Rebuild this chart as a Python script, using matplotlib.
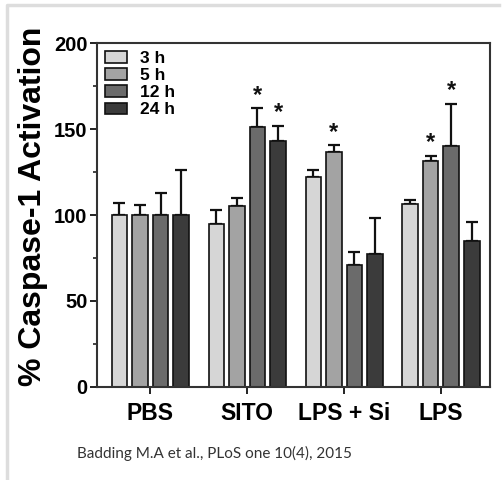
import numpy as np
import matplotlib
matplotlib.use("Agg")
import matplotlib.pyplot as plt
from matplotlib.lines import Line2D

# data
groups = ["PBS", "SITO", "LPS + Si", "LPS"]
times = ["3 h", "5 h", "12 h", "24 h"]
means = {
    "3 h": [100, 95, 122, 106.5],
    "5 h": [100, 105.5, 136.5, 131.5],
    "12 h": [100, 151.5, 71, 140],
    "24 h": [100, 143, 77.5, 85],
}
errs = {
    "3 h": [7, 8, 4.5, 2],
    "5 h": [6, 4.5, 4, 3],
    "12 h": [13, 10.5, 7.5, 24.5],
    "24 h": [26, 9, 21, 11],
}
# significance markers (time, group index)
stars = [("12 h", 1), ("24 h", 1), ("5 h", 2), ("5 h", 3), ("12 h", 3)]

colors = {"3 h": "#d6d6d6", "5 h": "#a3a3a3", "12 h": "#6b6b6b", "24 h": "#3b3b3b"}

fig = plt.figure(figsize=(5.04, 4.8), dpi=100)
ax = fig.add_axes([0.1925, 0.194, 0.7795, 0.716])

x = np.arange(len(groups))
width = 0.16
step = 0.212
for i, t in enumerate(times):
    pos = x + (i - 1.5) * step
    ax.bar(pos, means[t], width, color=colors[t], edgecolor="#111111", linewidth=1.2,
           label=t, zorder=2)
    ax.errorbar(pos, means[t], yerr=[np.zeros(len(groups)), errs[t]], fmt="none",
                ecolor="#111111", elinewidth=1.6, capsize=4, capthick=1.6, zorder=1)

for t, g in stars:
    i = times.index(t)
    pos = x[g] + (i - 1.5) * step
    top = means[t][g] + errs[t][g]
    ax.text(pos, top + 1, "*", ha="center", va="bottom", fontsize=17, fontweight="bold",
            family="Liberation Sans", color="#111111")

ax.set_xlim(-0.55, 3.505)
ax.set_ylim(0, 200)
ax.set_yticks([0, 50, 100, 150, 200])
ax.set_yticks([25, 75, 125, 175], minor=True)
ax.set_xticks(x)
ax.set_xticklabels(groups)
for lab in ax.get_xticklabels():
    lab.set_fontsize(16.5)
    lab.set_fontweight("bold")
    lab.set_family("Liberation Sans")
for lab in ax.get_yticklabels():
    lab.set_fontsize(14.5)
    lab.set_fontweight("bold")
    lab.set_family("Liberation Sans")
ax.tick_params(axis="both", which="major", length=5, width=1.4, color="#222222", pad=2)
ax.tick_params(axis="y", which="minor", length=3, width=1.2, color="#222222")
ax.tick_params(axis="x", pad=6)
for s in ax.spines.values():
    s.set_linewidth(1.5)
    s.set_color("#333333")

ax.set_ylabel("% Caspase-1 Activation", fontsize=23, fontweight="bold",
              family="Liberation Sans")
ax.yaxis.set_label_coords(-0.125, 0.525)

leg = ax.legend(loc="upper left", frameon=False,
                prop={"family": "Liberation Sans", "weight": "bold", "size": 12.5},
                handlelength=1.3, handleheight=0.62, handletextpad=0.75,
                labelspacing=0.12, borderaxespad=0.05, bbox_to_anchor=(0.0, 1.0))

fig.text(0.153, 0.056, "Badding M.A et al., PLoS one 10(4), 2015", fontsize=11,
         family="Lato", color="#333333", va="center")

# light frame lines (top and left) around the panel
fig.add_artist(Line2D([0.013, 0.013, 0.99], [0.0, 0.989, 0.989], transform=fig.transFigure,
                      color="#dddddd", linewidth=2.5))

fig.savefig("out.png", dpi=100)
